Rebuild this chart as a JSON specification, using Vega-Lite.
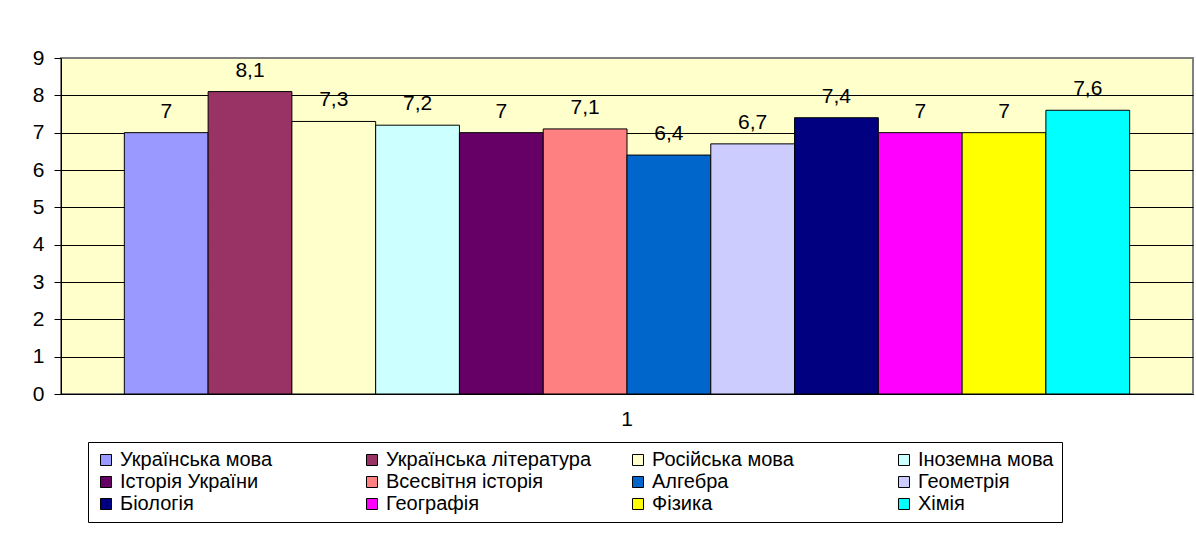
{
  "$schema": "https://vega.github.io/schema/vega-lite/v6.json",
  "width": 1132,
  "height": 336,
  "autosize": "none",
  "padding": {"left": 61, "top": 58, "right": 3, "bottom": 154},
  "background": "white",
  "data": {
    "values": [
      {"group": "1", "subject": "Українська мова", "score": 7},
      {"group": "1", "subject": "Українська література", "score": 8.1},
      {"group": "1", "subject": "Російська мова", "score": 7.3},
      {"group": "1", "subject": "Іноземна мова", "score": 7.2},
      {"group": "1", "subject": "Історія України", "score": 7},
      {"group": "1", "subject": "Всесвітня історія", "score": 7.1},
      {"group": "1", "subject": "Алгебра", "score": 6.4},
      {"group": "1", "subject": "Геометрія", "score": 6.7},
      {"group": "1", "subject": "Біологія", "score": 7.4},
      {"group": "1", "subject": "Географія", "score": 7},
      {"group": "1", "subject": "Фізика", "score": 7},
      {"group": "1", "subject": "Хімія", "score": 7.6}
    ]
  },
  "encoding": {
    "x": {
      "field": "group",
      "type": "nominal",
      "scale": {"paddingInner": 0, "paddingOuter": 0.063},
      "axis": {
        "title": null,
        "labelAngle": 0,
        "ticks": false,
        "labelPadding": 14,
        "labelFontSize": 21,
        "labelColor": "black",
        "domainColor": "black",
        "domainWidth": 1
      }
    },
    "xOffset": {
      "field": "subject",
      "type": "nominal",
      "sort": null,
      "scale": {"paddingInner": 0, "paddingOuter": 0}
    },
    "y": {
      "field": "score",
      "type": "quantitative",
      "scale": {"domain": [0, 9], "nice": false},
      "axis": {
        "title": null,
        "values": [0, 1, 2, 3, 4, 5, 6, 7, 8, 9],
        "labelFontSize": 21,
        "labelColor": "black",
        "labelPadding": 10,
        "tickSize": 7,
        "tickColor": "black",
        "domainColor": "black",
        "gridColor": {"condition": {"test": "datum.value == 9", "value": "#808080"}, "value": "black"},
        "gridOpacity": 1,
        "grid": true
      }
    }
  },
  "layer": [
    {
      "mark": {"type": "bar", "stroke": "black", "strokeWidth": 1},
      "encoding": {
        "color": {
          "field": "subject",
          "type": "nominal",
          "scale": {
            "domain": ["Українська мова", "Українська література", "Російська мова", "Іноземна мова", "Історія України", "Всесвітня історія", "Алгебра", "Геометрія", "Біологія", "Географія", "Фізика", "Хімія"],
            "range": ["#9999FF", "#993366", "#FFFFCC", "#CCFFFF", "#660066", "#FF8080", "#0066CC", "#CCCCFF", "#000080", "#FF00FF", "#FFFF00", "#00FFFF"]
          },
          "legend": {
            "title": null,
            "orient": "none",
            "legendX": 27,
            "legendY": 384,
            "direction": "horizontal",
            "columns": 4,
            "gridAlign": "all",
            "columnPadding": 36,
            "rowPadding": 2,
            "padding": 8,
            "strokeColor": "black",
            "fillColor": "white",
            "symbolType": "square",
            "symbolSize": 121,
            "symbolStrokeColor": "black",
            "symbolStrokeWidth": 1,
            "symbolOpacity": 1,
            "labelFontSize": 20,
            "labelColor": "black",
            "labelOffset": 4,
            "labelLimit": 400
          }
        }
      }
    },
    {
      "mark": {"type": "text", "baseline": "alphabetic", "dy": -15, "fontSize": 21, "color": "black"},
      "encoding": {
        "text": {"field": "score", "type": "quantitative", "format": ".1~f"}
      }
    }
  ],
  "config": {
    "font": "Liberation Sans",
    "view": {"fill": "#FFFFCC", "stroke": "#808080", "strokeWidth": 2},
    "locale": {
      "number": {"decimal": ",", "thousands": " ", "grouping": [3], "currency": ["", " грн"]}
    }
  }
}
